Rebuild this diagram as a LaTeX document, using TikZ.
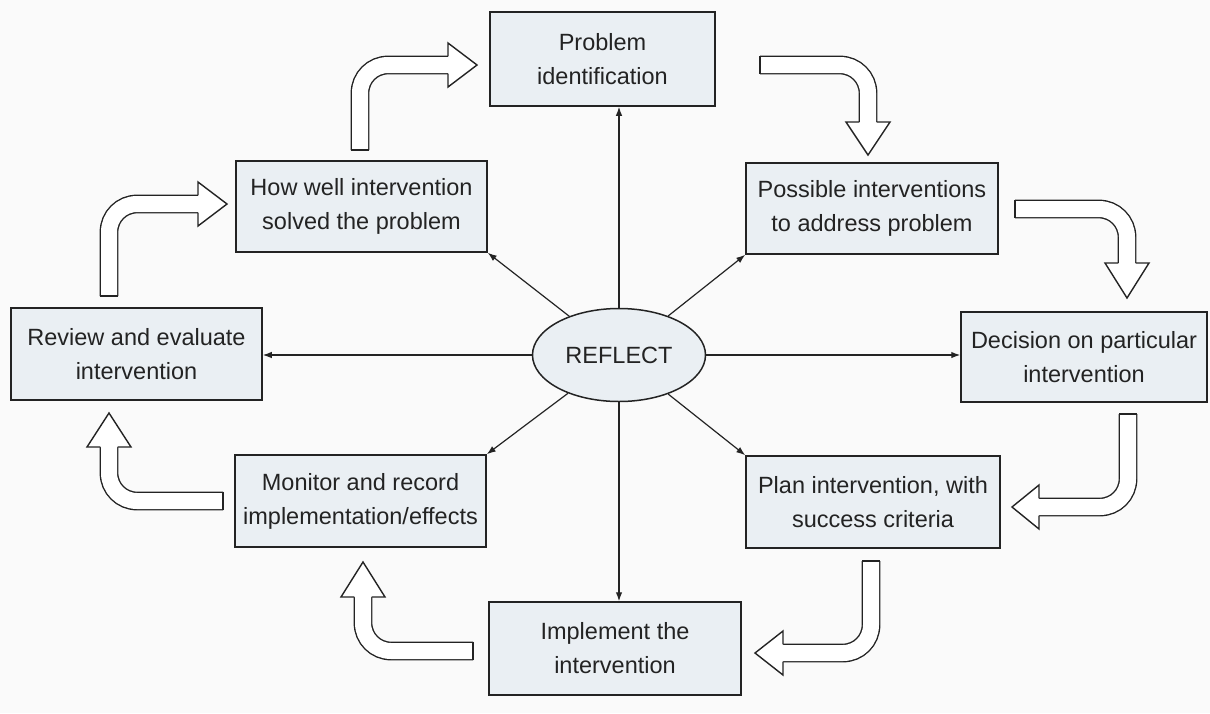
\documentclass[tikz,border=0pt]{standalone}
\usepackage{fontspec}
\setmainfont{Liberation Sans}
\usetikzlibrary{arrows.meta,calc,shapes.geometric}
\definecolor{boxfill}{RGB}{234,239,243}
\definecolor{ink}{RGB}{35,35,35}
\definecolor{paper}{RGB}{250,250,250}
\tikzset{
  box/.style={draw=ink, line width=1.5pt, fill=boxfill, align=center, inner sep=2pt,
    text=ink, font=\fontsize{23.5}{34}\selectfont},
  hub/.style={ellipse, draw=ink, line width=1.5pt, fill=boxfill, inner sep=0pt,
    minimum width=173pt, minimum height=93pt, text=ink, font=\fontsize{23.5}{34}\selectfont},
  conn/.style={draw=ink, line width=1.2pt, -{Latex[length=9pt,width=6.5pt]}},
  band/.style={draw=ink, line width=1.4pt, double=white, double distance=16pt, rounded corners=28pt},
  bandcap/.style={draw=ink, line width=1.4pt},
  headtri/.style={draw=ink, fill=white, line width=1.4pt, line join=miter},
}
\newcommand\hollowarrow[4]{%
  \draw[band] (#1) -- (#2) -- (#3);
  \draw[bandcap] ($(#1)!9.4pt!90:(#2)$) -- ($(#1)!9.4pt!-90:(#2)$);
  \filldraw[headtri] ($(#3)!8.7pt!90:(#4)$) -- ($(#3)!22pt!90:(#4)$) -- (#4)
     -- ($(#3)!22pt!-90:(#4)$) -- ($(#3)!8.7pt!-90:(#4)$);
}
\begin{document}
\begin{tikzpicture}[x=1pt,y=-1pt]
\fill[paper] (0,0) rectangle (1210,713);
\useasboundingbox (0,0) rectangle (1210,713);

% boxes
\node[box, minimum width=225pt, minimum height=94pt] (problem)   at (602.5,59)  {Problem\\identification};
\node[box, minimum width=251pt, minimum height=91pt] (howwell)   at (361.5,206.5) {How well intervention\\solved the problem};
\node[box, minimum width=252pt, minimum height=91pt] (possible)  at (872,208.5) {Possible interventions\\to address problem};
\node[box, minimum width=246pt, minimum height=90pt] (decision)  at (1084,357) {Decision on particular\\intervention};
\node[box, minimum width=251pt, minimum height=92pt] (review)    at (136.5,354) {Review and evaluate\\intervention};
\node[box, minimum width=251pt, minimum height=92pt] (monitor)   at (360.5,501) {Monitor and record\\implementation/effects};
\node[box, minimum width=254pt, minimum height=92pt] (plan)      at (873,502)   {Plan intervention, with\\success criteria};
\node[box, minimum width=252pt, minimum height=93pt] (implement) at (615,648.5) {Implement the\\intervention};
\node[hub] (reflect) at (619,355) {REFLECT};

% spokes
\draw[conn] (reflect.north) -- (reflect.north |- problem.south);
\draw[conn] (reflect.south) -- (reflect.south |- implement.north);
\draw[conn] (reflect.west) -- (reflect.west -| review.east);
\draw[conn] (reflect.east) -- (reflect.east -| decision.west);
\draw[conn] (reflect) -- (howwell.south east);
\draw[conn] (reflect) -- (possible.south west);
\draw[conn] (reflect) -- (monitor.north east);
\draw[conn] (reflect) -- (plan.north west);

% hollow cycle arrows
\coordinate (aS) at (360,150);  \coordinate (aC) at (360,65);  \coordinate (aB) at (448,65);  \coordinate (aT) at (477,65);
\coordinate (bS) at (760,65);   \coordinate (bC) at (868,65);  \coordinate (bB) at (868,122); \coordinate (bT) at (868,155);
\coordinate (cS) at (1015,209); \coordinate (cC) at (1127,209); \coordinate (cB) at (1127,263); \coordinate (cT) at (1127,298);
\coordinate (dS) at (1128,414); \coordinate (dC) at (1128,507); \coordinate (dB) at (1039,507); \coordinate (dT) at (1012,507);
\coordinate (eS) at (871,561);  \coordinate (eC) at (871,653);  \coordinate (eB) at (783,653);  \coordinate (eT) at (755,653);
\coordinate (fS) at (473,651);  \coordinate (fC) at (363,651);  \coordinate (fB) at (363,597);  \coordinate (fT) at (363,562);
\coordinate (gS) at (223,501);  \coordinate (gC) at (109,501);  \coordinate (gB) at (109,447);  \coordinate (gT) at (109,413);
\coordinate (hS) at (109,296);  \coordinate (hC) at (109,204);  \coordinate (hB) at (198,204);  \coordinate (hT) at (227,204);
\hollowarrow{aS}{aC}{aB}{aT}
\hollowarrow{bS}{bC}{bB}{bT}
\hollowarrow{cS}{cC}{cB}{cT}
\hollowarrow{dS}{dC}{dB}{dT}
\hollowarrow{eS}{eC}{eB}{eT}
\hollowarrow{fS}{fC}{fB}{fT}
\hollowarrow{gS}{gC}{gB}{gT}
\hollowarrow{hS}{hC}{hB}{hT}
\end{tikzpicture}
\end{document}
